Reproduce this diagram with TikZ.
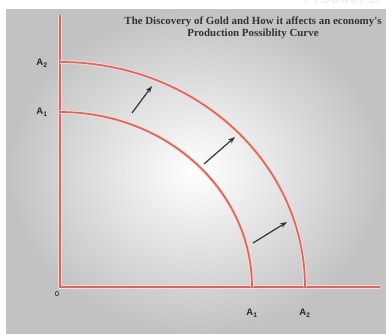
\documentclass[tikz,border=0pt]{standalone}
\usepackage{fontspec}
\newfontfamily\labelfont{Liberation Sans}
\newfontfamily\titlefont{Liberation Serif}
\usetikzlibrary{arrows.meta}
\definecolor{ppcred}{RGB}{214,104,92}

\begin{document}
\begin{tikzpicture}[x=1pt, y=1pt,
  ppc/.style={draw=ppcred, line width=1.7pt,
              preaction={draw=ppcred!25, line width=3.6pt}},
  shiftarr/.style={-{Stealth[length=7pt, width=5pt]}, line width=1.2pt, draw=black!80},
  lbl/.style={font=\labelfont\bfseries\fontsize{9.5}{11}\selectfont, text=black!85, inner sep=0pt},
  ttl/.style={font=\titlefont\bfseries\fontsize{10.9}{12.5}\selectfont, text=black!80, align=center, inner sep=0pt}
]
  % frame and background
  \useasboundingbox (0,0) rectangle (386,333);
  \fill[white] (0,0) rectangle (386,333);
  \shade[inner color=white, outer color=gray!48] (6,0) rectangle (386,323);
  \node[font=\labelfont\bfseries\fontsize{16}{18}\selectfont, text=gray!12, anchor=base west] (prod) at (300,329) {Product B};

  \node[ttl] (title) at (253,305) {The Discovery of Gold and How it affects an economy's\\Production Possiblity Curve};

  % axes
  \coordinate (o) at (60,46);
  \draw[ppc] (60,318) -- (o) -- (380,46);

  % production possibility curves
  \draw[ppc] (60,221) arc[start angle=90, end angle=0, x radius=192, y radius=175];
  \draw[ppc] (60,271) arc[start angle=90, end angle=0, x radius=245, y radius=225];

  % outward shift
  \draw[shiftarr] (132,220) -- (152,247);
  \draw[shiftarr] (204,169) -- (235,196);
  \draw[shiftarr] (253,90) -- (287,111);

  % labels
  \node[lbl] (a2y) at (42,270) {A\textsubscript{2}};
  \node[lbl] (a1y) at (42,221) {A\textsubscript{1}};
  \node[lbl] (a1x) at (252,20) {A\textsubscript{1}};
  \node[lbl] (a2x) at (305,20) {A\textsubscript{2}};
  \node[font=\labelfont\fontsize{7}{8}\selectfont, inner sep=0pt] (zero) at (57,39) {0};
\end{tikzpicture}
\end{document}
